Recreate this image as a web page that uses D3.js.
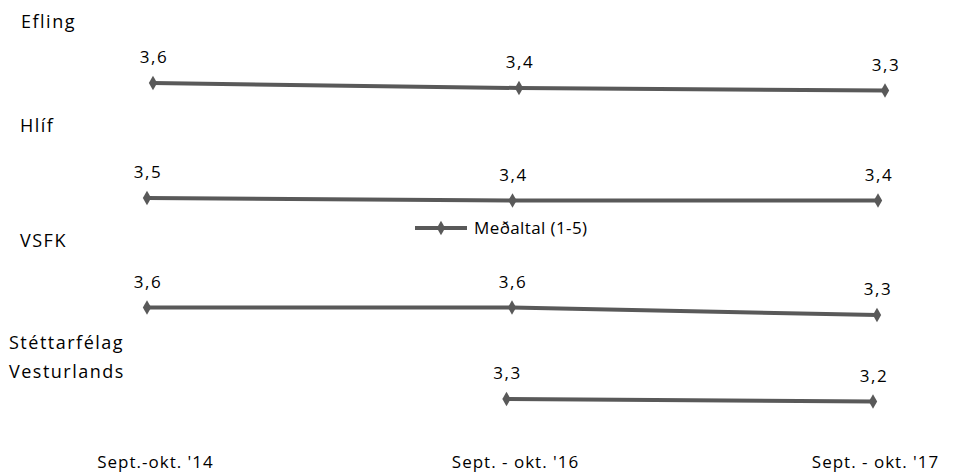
<!DOCTYPE html>
<html>
<head>
<meta charset="utf-8">
<script src="https://cdn.jsdelivr.net/npm/d3@7"></script>
<style>
  html, body { margin: 0; padding: 0; background: #fff; }
  svg { display: block; }
  text { font-family: "Open Sans", "Noto Sans", sans-serif; fill: #000; }
</style>
</head>
<body>
<svg id="chart" width="954" height="472"></svg>
<script>
// ---- data ----
const categories = ["Sept.-okt. '14", "Sept. - okt. '16", "Sept. - okt. '17"];
const panelNames = ["Efling", "Hlíf", "VSFK", "Stéttarfélag Vesturlands"];
const efling = [3.6, 3.4, 3.3];
const hlif = [3.5, 3.4, 3.4];
const vsfk = [3.6, 3.6, 3.3];
const stettarfelag = [null, 3.3, 3.2];
const seriesName = "Meðaltal (1-5)";

const seriesValues = [efling, hlif, vsfk, stettarfelag];

// ---- layout ----
const panelLayout = [
  { x0: 153, x1: 885, yMid: 85.5, titleLines: ["Efling"], titleX: 21, titleY: 28 },
  { x0: 147, x1: 878, yMid: 198, titleLines: ["Hlíf"], titleX: 20, titleY: 132 },
  { x0: 147, x1: 877, yMid: 310, titleLines: ["VSFK"], titleX: 20, titleY: 247 },
  { x0: 140, x1: 873, yMid: 394, titleLines: ["Stéttarfélag", "Vesturlands"], titleX: 9, titleY: 349 }
];
const pxPerUnit = 25;
const lineColor = "#595959";

const svg = d3.select("#chart");
const fmt = v => d3.format(".1f")(v).replace(".", ",");
const diamond = d3.symbol().type(d3.symbolDiamond).size(60);

panelNames.forEach((name, i) => {
  const L = panelLayout[i];
  const vals = seriesValues[i];
  const x = d3.scalePoint().domain(categories).range([L.x0, L.x1]);
  const y = d3.scaleLinear().domain([3.0, 4.0])
    .range([L.yMid + 0.5 * pxPerUnit, L.yMid - 0.5 * pxPerUnit]);

  const data = categories.map((c, j) => ({ c, v: vals[j] })).filter(d => d.v != null);

  const g = svg.append("g");
  // title
  const t = g.append("text")
    .attr("x", L.titleX).attr("y", L.titleY)
    .attr("font-size", 18)
    .attr("letter-spacing", 1.5);
  L.titleLines.forEach((ln, k) => {
    t.append("tspan").attr("x", L.titleX).attr("dy", k === 0 ? 0 : 29).text(ln);
  });

  g.append("path")
    .datum(data)
    .attr("fill", "none")
    .attr("stroke", lineColor)
    .attr("stroke-width", 4)
    .attr("d", d3.line().x(d => x(d.c)).y(d => y(d.v)));

  g.selectAll("path.m").data(data).join("path")
    .attr("class", "m")
    .attr("d", diamond)
    .attr("fill", lineColor)
    .attr("transform", d => `translate(${x(d.c)},${y(d.v)})`);

  g.selectAll("text.lbl").data(data).join("text")
    .attr("class", "lbl")
    .attr("x", d => x(d.c) + 1)
    .attr("y", d => y(d.v) - 20)
    .attr("text-anchor", "middle")
    .attr("font-size", 17)
    .attr("letter-spacing", 1.5)
    .text(d => fmt(d.v));
});

// ---- category axis (labels only) ----
const xAxisScale = d3.scalePoint().domain(categories).range([155, 875]);
const axis = d3.axisBottom(xAxisScale).tickSize(0).tickPadding(0);
const ag = svg.append("g").attr("transform", "translate(0,456)").call(axis);
ag.select(".domain").remove();
ag.selectAll("text")
  .attr("font-size", 17)
  .attr("font-family", "'Open Sans', sans-serif")
  .attr("letter-spacing", 1)
  .attr("fill", "#000")
  .attr("dy", "0.71em");

// ---- legend ----
const lg = svg.append("g").attr("transform", "translate(415,228)");
lg.append("line").attr("x1", 0).attr("x2", 52).attr("y1", 0).attr("y2", 0)
  .attr("stroke", lineColor).attr("stroke-width", 4);
lg.append("path").attr("d", diamond).attr("fill", lineColor)
  .attr("transform", "translate(26,0)");
lg.append("text").attr("x", 59).attr("y", 0).attr("dy", "0.35em")
  .attr("font-size", 17).attr("letter-spacing", 0.4).text(seriesName);
</script>
</body>
</html>
